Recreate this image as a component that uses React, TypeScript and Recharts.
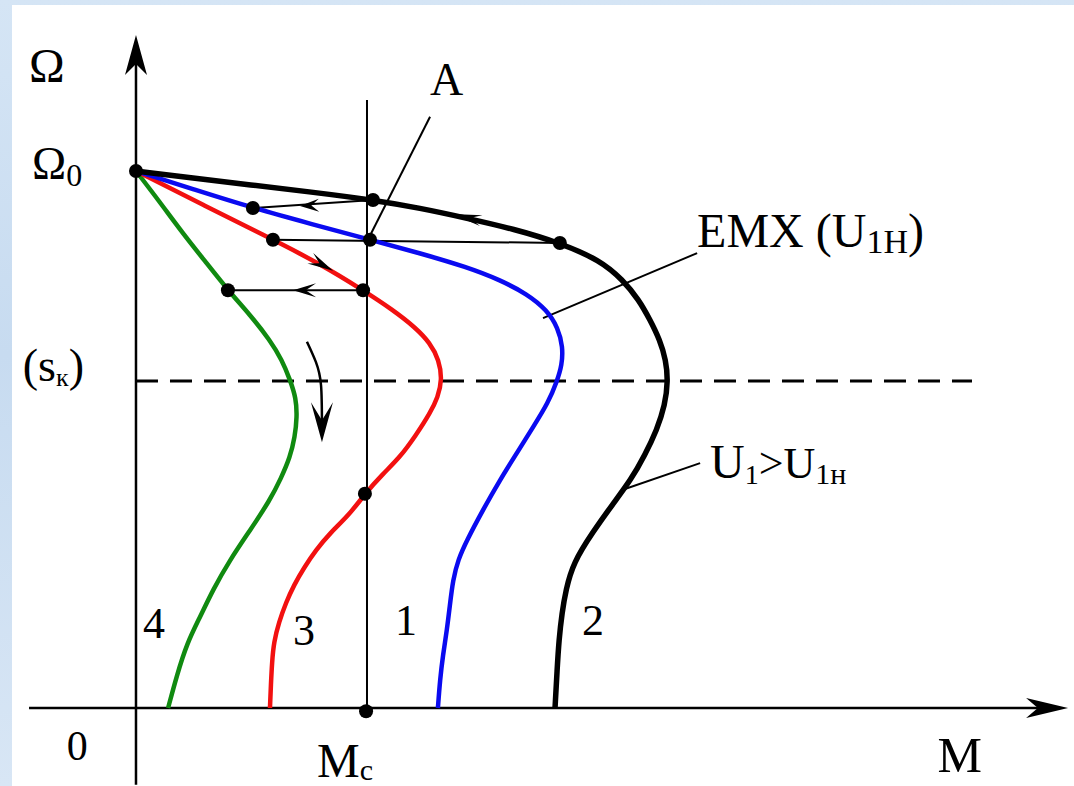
import { ComposedChart, Line, XAxis, YAxis, ReferenceLine, ReferenceDot } from "recharts";

const W = 1074;
const H = 786;
const SERIF = "'Liberation Serif', 'DejaVu Serif', 'Times New Roman', serif";

// M in units of Mc, Ω in units of Ω0
// 1 - ЕМХ (U1н), blue
const curve1 = [
  { m: 0, w: 1 },
  { m: 0.255, w: 0.965 },
  { m: 0.506, w: 0.931 },
  { m: 0.762, w: 0.901 },
  { m: 1.013, w: 0.872 },
  { m: 1.229, w: 0.847 },
  { m: 1.433, w: 0.821 },
  { m: 1.576, w: 0.797 },
  { m: 1.693, w: 0.771 },
  { m: 1.779, w: 0.741 },
  { m: 1.827, w: 0.708 },
  { m: 1.848, w: 0.672 },
  { m: 1.844, w: 0.639 },
  { m: 1.823, w: 0.609 },
  { m: 1.784, w: 0.568 },
  { m: 1.719, w: 0.523 },
  { m: 1.649, w: 0.475 },
  { m: 1.576, w: 0.425 },
  { m: 1.502, w: 0.369 },
  { m: 1.433, w: 0.313 },
  { m: 1.394, w: 0.276 },
  { m: 1.372, w: 0.238 },
  { m: 1.359, w: 0.192 },
  { m: 1.346, w: 0.145 },
  { m: 1.329, w: 0.099 },
  { m: 1.316, w: 0.052 },
  { m: 1.307, w: 0 },
];

// 2 - U1 > U1н, black
const curve2 = [
  { m: 0, w: 1 },
  { m: 0.247, w: 0.987 },
  { m: 0.494, w: 0.974 },
  { m: 0.758, w: 0.961 },
  { m: 1.026, w: 0.946 },
  { m: 1.229, w: 0.931 },
  { m: 1.433, w: 0.912 },
  { m: 1.636, w: 0.892 },
  { m: 1.835, w: 0.866 },
  { m: 2.009, w: 0.834 },
  { m: 2.108, w: 0.797 },
  { m: 2.177, w: 0.76 },
  { m: 2.225, w: 0.723 },
  { m: 2.268, w: 0.685 },
  { m: 2.294, w: 0.648 },
  { m: 2.303, w: 0.609 },
  { m: 2.29, w: 0.564 },
  { m: 2.255, w: 0.518 },
  { m: 2.203, w: 0.471 },
  { m: 2.143, w: 0.425 },
  { m: 2.061, w: 0.378 },
  { m: 1.978, w: 0.328 },
  { m: 1.892, w: 0.27 },
  { m: 1.861, w: 0.22 },
  { m: 1.844, w: 0.177 },
  { m: 1.831, w: 0.127 },
  { m: 1.823, w: 0.071 },
  { m: 1.814, w: 0 },
];

// 3 - red
const curve3 = [
  { m: 0, w: 1 },
  { m: 0.299, w: 0.935 },
  { m: 0.593, w: 0.872 },
  { m: 0.797, w: 0.827 },
  { m: 0.983, w: 0.778 },
  { m: 1.113, w: 0.741 },
  { m: 1.208, w: 0.709 },
  { m: 1.273, w: 0.68 },
  { m: 1.312, w: 0.648 },
  { m: 1.325, w: 0.611 },
  { m: 1.307, w: 0.579 },
  { m: 1.273, w: 0.549 },
  { m: 1.212, w: 0.508 },
  { m: 1.143, w: 0.467 },
  { m: 1.069, w: 0.436 },
  { m: 0.991, w: 0.399 },
  { m: 0.922, w: 0.359 },
  { m: 0.84, w: 0.326 },
  { m: 0.779, w: 0.294 },
  { m: 0.727, w: 0.261 },
  { m: 0.684, w: 0.229 },
  { m: 0.649, w: 0.196 },
  { m: 0.619, w: 0.16 },
  { m: 0.597, w: 0.123 },
  { m: 0.589, w: 0.086 },
  { m: 0.584, w: 0.043 },
  { m: 0.58, w: 0 },
];

// 4 - green
const curve4 = [
  { m: 0, w: 1 },
  { m: 0.1, w: 0.944 },
  { m: 0.199, w: 0.886 },
  { m: 0.299, w: 0.832 },
  { m: 0.398, w: 0.778 },
  { m: 0.494, w: 0.732 },
  { m: 0.58, w: 0.685 },
  { m: 0.632, w: 0.648 },
  { m: 0.667, w: 0.611 },
  { m: 0.693, w: 0.577 },
  { m: 0.697, w: 0.542 },
  { m: 0.688, w: 0.505 },
  { m: 0.667, w: 0.467 },
  { m: 0.628, w: 0.428 },
  { m: 0.58, w: 0.387 },
  { m: 0.494, w: 0.331 },
  { m: 0.407, w: 0.276 },
  { m: 0.333, w: 0.22 },
  { m: 0.277, w: 0.169 },
  { m: 0.221, w: 0.121 },
  { m: 0.177, w: 0.061 },
  { m: 0.139, w: 0 },
];

// operating points
const points = [
  { m: 0, w: 1 },
  { m: 1.026, w: 0.946 },
  { m: 0.506, w: 0.931 },
  { m: 0.593, w: 0.872 },
  { m: 1.013, w: 0.872 },
  { m: 1.835, w: 0.866 },
  { m: 0.398, w: 0.778 },
  { m: 0.983, w: 0.778 },
  { m: 0.991, w: 0.399 },
  { m: 0.996, w: -0.006 },
];

// transitions between curves
const jumps = [
  [{ m: 1.026, w: 0.946 }, { m: 0.506, w: 0.931 }],
  [{ m: 1.835, w: 0.866 }, { m: 0.593, w: 0.872 }],
  [{ m: 0.983, w: 0.778 }, { m: 0.398, w: 0.778 }],
];

const turnArrow = [
  { m: 0.74, w: 0.682 },
  { m: 0.779, w: 0.644 },
  { m: 0.801, w: 0.601 },
  { m: 0.805, w: 0.527 },
];

const sK = 0.609;
const Mc = 1;

// arrow tips: a = direction on screen in degrees
const heads = [
  { m: 4.035, w: 0, a: 0, len: 42, half: 10, notch: 0.72 },
  { m: 0, w: 1.253, a: -90, len: 40, half: 11, notch: 0.72 },
  { m: 0.71, w: 0.935, a: 178, len: 19, half: 6.5, notch: 0.6 },
  { m: 0.68, w: 0.778, a: 180, len: 23, half: 7, notch: 0.55 },
  { m: 0.853, w: 0.814, a: 29, len: 26, half: 6, notch: 0.6 },
  { m: 1.368, w: 0.92, a: 193, len: 30, half: 5.5, notch: 0.6 },
  { m: 0.805, w: 0.495, a: 90, len: 40, half: 11, notch: 0.55 },
];

const arrowHead = (p: any) => {
  const { cx, cy, payload } = p;
  if (cx == null || cy == null) return null;
  const { a, len, half, notch } = payload;
  const pts = `0,0 ${-len},${-half} ${-len * notch},0 ${-len},${half}`;
  return (
    <polygon
      key={`h-${cx}-${cy}`}
      points={pts}
      transform={`translate(${cx},${cy}) rotate(${a})`}
      fill="#000"
    />
  );
};

const note = (key: string, m: number, w: number, content: any) => (
  <ReferenceDot
    key={key}
    x={m}
    y={w}
    r={0}
    ifOverflow="visible"
    shape={(p: any) => (
      <text x={p.cx} y={p.cy} fontFamily={SERIF} fill="#000" fontSize={44}>
        {content}
      </text>
    )}
  />
);

export default function App() {
  return (
    <div
      style={{
        position: "absolute",
        left: 0,
        top: 0,
        width: W,
        height: H,
        overflow: "hidden",
        background: "linear-gradient(180deg, #d5e5f5 0%, #c7dbf0 45%, #d8e6f5 100%)",
      }}
    >
      <div style={{ position: "absolute", left: 12, top: 5, right: 0, bottom: 0, background: "#fff" }} />
      <div style={{ position: "absolute", left: 0, top: 0 }}>
        <ComposedChart width={W} height={H} margin={{ top: 0, right: 0, bottom: 0, left: 0 }}>
          <XAxis type="number" dataKey="m" domain={[-0.5887, 4.0606]} hide allowDataOverflow />
          <YAxis type="number" dataKey="w" domain={[-0.14525, 1.3184]} hide allowDataOverflow />

          {/* axes */}
          <ReferenceLine segment={[{ x: -0.463, y: 0 }, { x: 4.0, y: 0 }]} stroke="#000" strokeWidth={2.5} />
          <ReferenceLine segment={[{ x: 0, y: -0.143 }, { x: 0, y: 1.22 }]} stroke="#000" strokeWidth={2.5} />

          {/* critical slip, load torque */}
          <ReferenceLine segment={[{ x: 0, y: sK }, { x: 3.619, y: sK }]} stroke="#000" strokeWidth={3} strokeDasharray="22 12" />
          <ReferenceLine segment={[{ x: Mc, y: 1.132 }, { x: Mc, y: 0 }]} stroke="#000" strokeWidth={2} />

          {jumps.map((s, i) => (
            <ReferenceLine key={`j${i}`} segment={[{ x: s[0].m, y: s[0].w }, { x: s[1].m, y: s[1].w }]} stroke="#000" strokeWidth={2} />
          ))}

          {/* leaders */}
          <ReferenceLine segment={[{ x: 1.273, y: 1.101 }, { x: 1.004, y: 0.872 }]} stroke="#000" strokeWidth={2} />
          <ReferenceLine segment={[{ x: 2.429, y: 0.847 }, { x: 1.762, y: 0.726 }]} stroke="#000" strokeWidth={2} />
          <ReferenceLine segment={[{ x: 2.442, y: 0.456 }, { x: 2.104, y: 0.406 }]} stroke="#000" strokeWidth={2} />

          <Line data={curve4} dataKey="w" type="basis" stroke="#108a10" strokeWidth={4.5} dot={false} activeDot={false} isAnimationActive={false} />
          <Line data={curve3} dataKey="w" type="basis" stroke="#f21010" strokeWidth={4.5} dot={false} activeDot={false} isAnimationActive={false} />
          <Line data={curve1} dataKey="w" type="basis" stroke="#0a0af0" strokeWidth={4.5} dot={false} activeDot={false} isAnimationActive={false} />
          <Line data={curve2} dataKey="w" type="basis" stroke="#000" strokeWidth={5.5} dot={false} activeDot={false} isAnimationActive={false} />

          <Line data={turnArrow} dataKey="w" type="natural" stroke="#000" strokeWidth={2.5} dot={false} activeDot={false} isAnimationActive={false} />

          <Line data={points} dataKey="w" stroke="none" dot={{ r: 7, fill: "#000", stroke: "none" }} activeDot={false} isAnimationActive={false} />
          <Line data={heads} dataKey="w" stroke="none" dot={arrowHead} activeDot={false} isAnimationActive={false} />

          {note("om", -0.463, 1.166, <tspan fontSize={48}>Ω</tspan>)}
          {note("om0", -0.45, 0.985, <><tspan fontSize={46}>Ω</tspan><tspan fontSize={32} dy={7}>0</tspan></>)}
          {note("sk", -0.49, 0.609, <><tspan fontSize={46}>(s</tspan><tspan fontSize={26} dy={5}>к</tspan><tspan fontSize={46} dy={-5}>)</tspan></>)}
          {note("A", 1.273, 1.142, <tspan fontSize={46}>A</tspan>)}
          {note("emx", 2.429, 0.858, <><tspan fontSize={48}>ЕМХ (U</tspan><tspan fontSize={34} dy={6}>1Н</tspan><tspan fontSize={48} dy={-6}>)</tspan></>)}
          {note("u1", 2.485, 0.428, <><tspan fontSize={48}>U</tspan><tspan fontSize={28} dy={6}>1</tspan><tspan fontSize={44} dy={-6}>&gt;U</tspan><tspan fontSize={30} dy={6}>1н</tspan></>)}
          {note("n4", 0.03, 0.13, "4")}
          {note("n3", 0.68, 0.117, "3")}
          {note("n1", 1.121, 0.136, "1")}
          {note("n2", 1.931, 0.136, "2")}
          {note("z", -0.3, -0.097, <tspan fontSize={42}>0</tspan>)}
          {note("mc", 0.784, -0.128, <><tspan fontSize={48}>M</tspan><tspan fontSize={30} dy={3}>c</tspan></>)}
          {note("M", 3.47, -0.119, <tspan fontSize={50}>M</tspan>)}
        </ComposedChart>
      </div>
    </div>
  );
}
